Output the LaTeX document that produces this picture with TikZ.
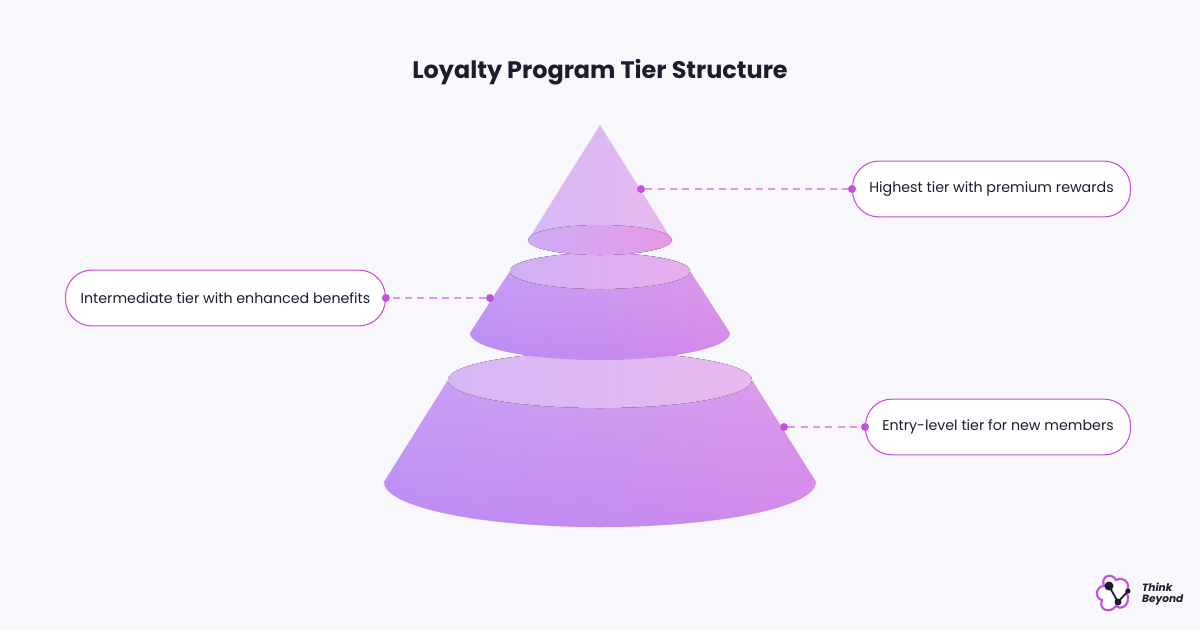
\documentclass[tikz,border=0pt]{standalone}
\usepackage{fontspec}
\setmainfont{Poppins}
\usetikzlibrary{shapes.misc}
\definecolor{bg}{HTML}{F8F7FC}
\definecolor{pA}{HTML}{BC8CF4}
\definecolor{pB}{HTML}{E485E2}
\definecolor{pL}{HTML}{D6B8F6}
\definecolor{pLR}{HTML}{E8B8EE}
\definecolor{acc}{HTML}{C34FDB}
\definecolor{dash}{HTML}{DE96EE}
\definecolor{ink}{HTML}{1E1B2E}
\begin{document}
\begin{tikzpicture}[x=0.02cm,y=-0.02cm,
  body/.style={left color=pA,right color=pB,middle color=pA!60!pB},
  topface/.style={left color=pL,right color=pLR},
  lbl/.style={draw=acc,line width=0.6pt,rounded corners=15pt,fill=white,font=\fontsize{8.1}{10}\selectfont,text=ink,minimum height=56*0.567pt,inner xsep=7pt,anchor=west},
  dl/.style={draw=dash,line width=0.7pt,dash pattern=on 4pt off 3pt},
  dt/.style={circle,fill=acc,inner sep=0pt,minimum size=4.5pt}]
\fill[bg] (0,0) rectangle (1200,630);
\node[font=\fontsize{13.6}{16}\selectfont\bfseries,text=ink] (title) at (600,72) {Loyalty Program Tier Structure};
% bottom frustum
\path[body] (448,380) -- (384,482) arc[start angle=180,end angle=0,x radius=216,y radius=45] -- (752,380) arc[start angle=0,end angle=-180,x radius=152,y radius=28] -- cycle;
\path[top color=pL,bottom color=pA,opacity=0.45] (448,380) -- (384,482) arc[start angle=180,end angle=0,x radius=216,y radius=45] -- (752,380) -- cycle;
\fill[topface] (600,380) ellipse[x radius=152,y radius=28];
% middle frustum
\path[body] (510,271) -- (470,333) arc[start angle=180,end angle=0,x radius=130,y radius=27] -- (690,271) arc[start angle=0,end angle=-180,x radius=90,y radius=18] -- cycle;
\path[top color=pL,bottom color=pA,opacity=0.4] (510,271) -- (470,333) arc[start angle=180,end angle=0,x radius=130,y radius=27] -- (690,271) -- cycle;
\fill[left color=pL!80!pA,right color=pLR!80!pB] (600,271) ellipse[x radius=90,y radius=18];
% top cone
\path[left color=pL,right color=pLR] (600,125) -- (528,240) arc[start angle=180,end angle=0,x radius=72,y radius=15] -- cycle;
\fill[left color=pL!70!pA,right color=pB!60!pLR] (600,240) ellipse[x radius=72,y radius=15];
% labels
\node[lbl,minimum width=279*0.567pt] (l1) at (852,189) {Highest tier with premium rewards};
\node[lbl,minimum width=321*0.567pt] (l2) at (65,298) {Intermediate tier with enhanced benefits};
\node[lbl,minimum width=266*0.567pt] (l3) at (865,427) {Entry-level tier for new members};
\node[dt] (d1) at (641,189) {};
\node[dt] (d2) at (490,298) {};
\node[dt] (d3) at (784,427) {};
\draw[dl] (d1) -- (l1.west);
\draw[dl] (d2) -- (l2.east);
\draw[dl] (d3) -- (l3.west);
\node[dt] at (l1.west) {};
\node[dt] at (l2.east) {};
\node[dt] at (l3.west) {};
% logo
\draw[acc,line width=1.2pt,fill=white] (1104,586) .. controls (1100,576) and (1112,572) .. (1116,580) .. controls (1124,576) and (1132,584) .. (1126,592) .. controls (1132,600) and (1124,612) .. (1116,606) .. controls (1110,614) and (1098,610) .. (1102,600) .. controls (1094,598) and (1096,586) .. (1104,586) -- cycle;
\coordinate (m1) at (1109,586);
\coordinate (m2) at (1118,602);
\coordinate (m3) at (1128,591);
\draw[ink,line width=1pt] (m1) -- (m2) -- (m3);
\fill[ink] (m1) circle[radius=4.5] (m2) circle[radius=3.5] (m3) circle[radius=2.5];
\node[font=\fontsize{6}{6.5}\selectfont\bfseries\itshape,text=ink,align=left,anchor=west] (logo) at (1136,594) {Think\\Beyond};
\end{tikzpicture}
\end{document}
